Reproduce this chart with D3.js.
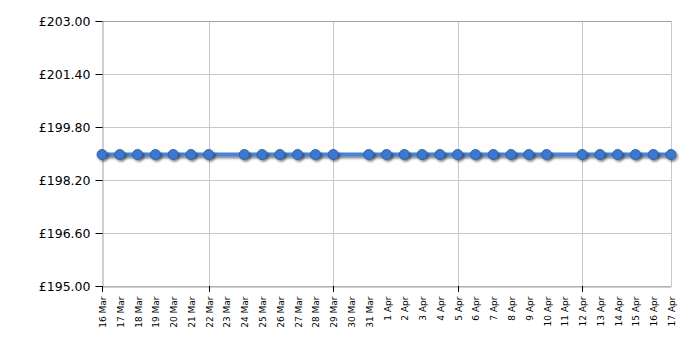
<!DOCTYPE html>
<html>
<head>
<meta charset="utf-8">
<script src="https://cdn.jsdelivr.net/npm/d3@7"></script>
<style>
  body { margin: 0; background: #fff; }
  svg { display: block; font-family: "DejaVu Sans", Verdana, sans-serif; }
</style>
</head>
<body>
<div id="chart"></div>
<script>
// Dates with a recorded price (23 Mar, 30 Mar, 11 Apr missing)
const dates = [
  '2024-03-16', '2024-03-17', '2024-03-18', '2024-03-19', '2024-03-20', '2024-03-21', '2024-03-22',
  '2024-03-24', '2024-03-25', '2024-03-26', '2024-03-27', '2024-03-28', '2024-03-29',
  '2024-03-31', '2024-04-01', '2024-04-02', '2024-04-03', '2024-04-04', '2024-04-05',
  '2024-04-06', '2024-04-07', '2024-04-08', '2024-04-09', '2024-04-10',
  '2024-04-12', '2024-04-13', '2024-04-14', '2024-04-15', '2024-04-16', '2024-04-17'
];
const prices = [
  198.97, 198.97, 198.97, 198.97, 198.97, 198.97, 198.97,
  198.97, 198.97, 198.97, 198.97, 198.97, 198.97,
  198.97, 198.97, 198.97, 198.97, 198.97, 198.97,
  198.97, 198.97, 198.97, 198.97, 198.97,
  198.97, 198.97, 198.97, 198.97, 198.97, 198.97
];
const yTicks = [195.0, 196.6, 198.2, 199.8, 201.4, 203.0];
const gridDates = ['2024-03-22', '2024-03-29', '2024-04-05', '2024-04-12'];
const startDate = '2024-03-16';
const endDate = '2024-04-17';

const width = 700, height = 350;
const margin = { top: 21, right: 29, bottom: 64, left: 102 };

const parse = d3.timeParse('%Y-%m-%d');
const data = dates.map((d, i) => ({ date: parse(d), price: prices[i] }));

const svg = d3.select('#chart').append('svg')
  .attr('width', width)
  .attr('height', height);

const x = d3.scaleTime()
  .domain([parse(startDate), parse(endDate)])
  .range([margin.left, width - margin.right]);

const y = d3.scaleLinear()
  .domain([195, 203])
  .range([height - margin.bottom, margin.top]);

// Drop shadow (user space so a flat line still gets a region)
const defs = svg.append('defs');
const shadow = defs.append('filter').attr('id', 'shadow')
  .attr('filterUnits', 'userSpaceOnUse')
  .attr('x', 0).attr('y', 0).attr('width', width).attr('height', height);
shadow.append('feDropShadow')
  .attr('dx', 1.5).attr('dy', 1.8).attr('stdDeviation', 0.8)
  .attr('flood-color', '#000').attr('flood-opacity', 0.5);

// Horizontal gridlines
svg.append('g')
  .selectAll('line')
  .data(yTicks)
  .join('line')
  .attr('x1', margin.left).attr('x2', width - margin.right)
  .attr('y1', d => Math.round(y(d)) + 0.5).attr('y2', d => Math.round(y(d)) + 0.5)
  .attr('stroke', '#c8c8c8');

// Vertical gridlines (weekly + right edge)
svg.append('g')
  .selectAll('line')
  .data(gridDates.concat([endDate]).map(parse))
  .join('line')
  .attr('x1', d => Math.round(x(d)) + 0.5).attr('x2', d => Math.round(x(d)) + 0.5)
  .attr('y1', margin.top).attr('y2', height - margin.bottom)
  .attr('stroke', '#c8c8c8');

// Top border
svg.append('line')
  .attr('x1', margin.left).attr('x2', width - margin.right)
  .attr('y1', margin.top + 0.5).attr('y2', margin.top + 0.5)
  .attr('stroke', '#a0a0a0');

// Y axis
const yAxis = svg.append('g')
  .attr('transform', `translate(${margin.left + 0.5},0)`)
  .call(d3.axisLeft(y).tickValues(yTicks).tickSize(7).tickPadding(5)
    .tickFormat(d => '£' + d.toFixed(2)));
yAxis.select('.domain').attr('stroke', '#a0a0a0');
yAxis.selectAll('.tick line').attr('stroke', '#000');
yAxis.selectAll('.tick').attr('transform', d => `translate(0,${Math.round(y(d)) + 0.5})`);
yAxis.selectAll('text')
  .attr('fill', '#000')
  .style('font-size', '12.5px')
  .style('font-family', '"DejaVu Sans", Verdana, sans-serif');

// X axis
const allDays = d3.timeDay.range(parse(startDate), d3.timeDay.offset(parse(endDate), 1));
const xAxis = svg.append('g')
  .attr('transform', `translate(0,${height - margin.bottom + 0.5})`)
  .call(d3.axisBottom(x).tickValues(allDays).tickSize(0)
    .tickFormat(d3.timeFormat('%-d %b')));
xAxis.select('.domain').attr('stroke', '#a0a0a0');
xAxis.selectAll('.tick').attr('transform', d => `translate(${Math.round(x(d)) + 0.5},0)`);
xAxis.selectAll('text')
  .attr('fill', '#000')
  .attr('transform', 'rotate(-90)')
  .attr('x', -10)
  .attr('y', 0)
  .attr('dy', '0.35em')
  .style('text-anchor', 'end')
  .style('font-size', '9px')
  .style('font-family', '"DejaVu Sans", Verdana, sans-serif');

// Small ticks on weekly dates
svg.append('g')
  .selectAll('line')
  .data(gridDates.map(parse).concat([parse(startDate)]))
  .join('line')
  .attr('x1', d => Math.round(x(d)) + 0.5).attr('x2', d => Math.round(x(d)) + 0.5)
  .attr('y1', height - margin.bottom).attr('y2', height - margin.bottom + 6)
  .attr('stroke', '#000');

// Price line
const line = d3.line()
  .x(d => x(d.date))
  .y(d => y(d.price));

svg.append('path')
  .datum(data)
  .attr('d', line)
  .attr('fill', 'none')
  .attr('stroke', '#4a84d6')
  .attr('stroke-width', 4)
  .attr('filter', 'url(#shadow)');

// Points
svg.append('g')
  .selectAll('circle')
  .data(data)
  .join('circle')
  .attr('cx', d => x(d.date))
  .attr('cy', d => y(d.price))
  .attr('r', 5)
  .attr('fill', '#3d78cf')
  .attr('stroke', '#2a569a')
  .attr('stroke-width', 0.8)
  .attr('filter', 'url(#shadow)');
</script>
</body>
</html>
